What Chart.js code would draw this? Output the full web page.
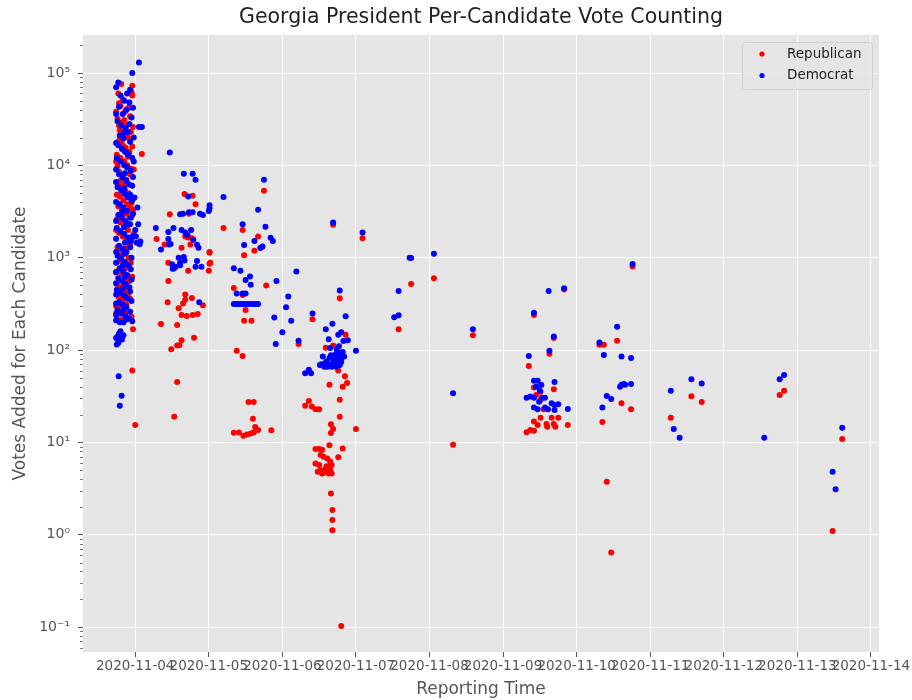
<!DOCTYPE html>
<html>
<head>
<meta charset="utf-8">
<script src="https://cdn.jsdelivr.net/npm/chart.js@4.4.1/dist/chart.umd.min.js"></script>
<style>
  body { margin: 0; background: #fff; }
  canvas { display: block; }
</style>
</head>
<body>
<canvas id="vote-chart" width="912" height="700"></canvas>
<script>
/* Reporting time is a fractional day of November 2020, votes are per report */
let republicanPoints = [
  // election night batch
  [3.78,47000],[3.80,44000],[3.83,52000],[3.86,38000],[3.76,32000],[3.81,29000],[3.88,27000],[3.93,34000],
  [3.79,24000],[3.84,22000],[3.90,20000],[3.77,18000],[3.82,17000],[3.87,15500],[3.92,14000],[3.75,13000],
  [3.80,12000],[3.85,11000],[3.89,10000],[3.94,9200],[3.78,8500],[3.83,7800],[3.88,7000],[3.76,6400],
  [3.81,5900],[3.86,5400],[3.91,5000],[3.79,4600],[3.84,4200],[3.95,3900],[3.77,3600],[3.82,3300],
  [3.87,3000],[3.92,2800],[3.75,2600],[3.80,2400],[3.85,2200],[3.90,2000],[3.78,1850],[3.83,1700],
  [3.88,1550],[3.93,1400],[3.76,1300],[3.81,1200],[3.86,1100],[3.91,1000],[3.79,920],[3.84,850],
  [3.89,780],[3.77,720],[3.82,660],[3.87,600],[3.92,560],[3.75,520],[3.80,480],[3.85,440],
  [3.90,400],[3.78,370],[3.83,340],[3.88,310],[3.76,290],[3.81,270],[3.86,250],[3.95,230],
  [3.79,215],[3.84,200],[3.97,168],[3.96,60],[4.00,15.4],[3.81,76000],[3.96,73000],[3.96,57000],
  [3.97,26000],[3.94,23000],[3.98,9000],[3.97,4300],[3.96,2900],[4.09,13300],[3.74,300],[3.77,270],
  [3.93,3500],[3.98,1800],
  [3.74,38000],[3.91,42000],[3.85,31000],[3.79,19000],[3.96,16000],[3.74,11000],[3.93,8000],[3.86,6200],
  [3.75,4800],[3.97,3300],[3.83,2600],[3.74,2000],[3.95,1600],[3.87,1250],[3.78,1050],[3.94,880],
  [3.74,690],[3.96,620],[3.85,520],[3.76,410],[3.93,360],[3.80,320],[3.74,250],[3.89,225],
  [3.82,205],[3.78,2900],[3.89,3800],[3.80,6800],[3.76,9800],[3.90,12500],[3.84,16000],[3.78,27000],
  [3.95,62000],[3.77,60000],
  // Nov 4 - Nov 5
  [4.47,2960],[4.29,1590],[4.67,4900],[4.78,4700],[4.82,3800],[5.75,5300],[4.73,3000],
  [4.68,1700],[4.72,1650],[4.77,1620],[4.40,1390],[4.63,1280],[4.75,1390],[4.45,880],[4.72,720],
  [5.01,1130],[5.02,880],[5.00,720],[5.46,2000],[5.20,2100],[5.67,1700],[5.62,1190],[5.48,1060],
  [5.01,1150],[5.01,860],[4.45,560],[4.44,330],[4.68,400],[4.68,350],[4.65,320],[4.77,365],
  [4.59,284],[4.63,240],[4.70,234],[4.78,240],[4.85,246],[4.92,305],[4.35,192],[4.57,187],
  [4.80,136],[4.63,128],[4.60,113],[4.57,112],[4.49,102],[4.57,45],[4.53,19],[5.34,470],
  [5.46,395],[5.50,272],[5.48,208],[5.58,208],[5.38,98],[5.46,86],[5.54,27.4],[5.61,27.4],
  [5.60,18],[5.34,12.7],[5.41,12.8],[5.47,11.8],[5.52,12.2],[5.57,12.5],[5.61,12.8],[5.64,13.8],
  [5.67,13.6],[5.63,14.7],[5.85,13.5],[5.78,500],[6.22,116],
  // Nov 6 - Nov 8
  [6.69,2280],[7.09,1620],[6.78,364],[6.41,216],[6.86,146],[6.59,106],[6.69,112],[6.76,60],
  [6.85,52],[6.88,44],[6.82,40],[6.64,42],[6.78,29],[6.78,19],[6.36,28],[6.31,25],
  [6.40,24.4],[6.45,22.8],[6.50,22.8],[7.00,14],[6.66,15.7],[6.69,14],[6.66,12.6],[6.64,9.3],
  [6.82,8.6],[6.76,6.9],[6.45,8.5],[6.50,8.5],[6.54,8.3],[6.52,7.3],[6.56,7.0],[6.61,6.7],
  [6.65,6.2],[6.67,5.7],[6.65,5.1],[6.61,4.8],[6.54,4.6],[6.48,4.8],[6.45,5.9],[6.50,5.7],
  [6.59,5.2],[6.63,4.6],[6.67,4.6],[6.57,5.0],[6.52,5.0],[6.60,5.5],[6.56,4.7],
  [6.66,2.8],[6.68,1.85],[6.68,1.44],[6.68,1.12],[6.80,0.103],[7.75,520],[8.06,600],
  [7.58,168],[8.59,145],[8.32,9.4],
  // Nov 9 onwards
  [9.42,240],[9.83,452],[9.69,135],[9.63,91],[9.35,67],[9.42,39.2],[9.45,32.6],[9.51,35.4],
  [9.69,37.6],[9.51,28.8],[9.55,22.8],[9.66,18.5],[9.75,18.5],[9.51,18.5],[9.42,16.8],[9.47,15.4],
  [9.59,15.8],[9.71,14.8],[9.88,15.4],[9.32,12.9],[9.37,13.6],[9.42,13.4],[9.60,14.8],[9.69,15.8],
  [10.31,114],[10.37,114],[10.55,126],[10.61,26.5],[10.74,22.8],[10.35,16.6],[10.41,3.75],[10.47,0.64],
  [10.76,801],[11.28,18.5],[11.56,31.6],[11.70,27.4],[12.76,32.6],[12.82,36.3],[13.61,10.9],[13.48,1.1]
]

let democratPoints = [
  // election night batch
  [4.05,130000],[3.96,100000],[3.77,79000],[3.93,66000],
  [3.80,57000],[3.85,50000],[3.92,48000],[3.78,43000],[3.88,40000],[3.83,36000],[3.95,33000],[3.76,30000],
  [3.81,27000],[3.87,25000],[4.05,26000],[4.09,26000],[3.90,23000],[3.79,21000],[3.84,19500],[3.93,18000],
  [3.77,16500],[3.82,15000],[3.86,14000],[3.91,13000],[3.75,12000],[3.80,11000],[3.85,10000],[3.89,9500],
  [3.94,8800],[3.78,8000],[3.83,7400],[3.88,6800],[3.92,6200],[3.76,5800],[3.81,5300],[3.86,4900],
  [3.90,4500],[3.95,4100],[3.79,3800],[3.84,3500],[3.89,3200],[3.77,2900],[3.82,2700],[3.87,2500],
  [3.91,2300],[3.75,2100],[3.80,1950],[3.85,1800],[3.90,1650],[3.94,1500],[4.02,1450],[4.06,1400],
  [3.78,1350],[3.83,1250],[3.88,1150],[3.76,1050],[3.81,980],[3.86,900],[3.91,830],[3.79,770],
  [3.84,710],[3.89,650],[3.77,600],[3.82,560],[3.87,520],[3.92,480],[3.75,450],[3.80,420],
  [3.85,390],[3.90,360],[3.78,330],[3.83,310],[3.88,290],[3.76,270],[3.81,250],[3.86,235],
  [3.91,220],[3.74,210],[3.79,200],[3.84,200],[3.87,230],[3.76,140],[3.74,135],[3.77,120],
  [3.82,130],[3.81,137],[3.775,52],[3.815,32],[3.79,25],[3.93,2300],[3.97,3000],[3.99,4500],
  [4.00,2000],[3.96,6000],[3.98,11000],
  [3.74,70000],[3.89,60000],[3.97,42000],[3.74,36000],[3.92,28000],[3.85,22500],[3.98,20000],[3.74,17500],
  [3.89,13500],[3.96,12000],[3.74,9000],[3.86,8200],[3.97,7500],[3.74,6600],[3.85,5600],[3.93,4800],
  [3.74,4000],[3.82,3100],[3.94,2700],[3.74,2500],[3.85,2150],[3.96,1700],[3.74,1600],[3.86,1450],
  [3.93,1300],[3.74,1150],[3.85,1100],[3.95,1000],[3.74,880],[3.83,820],[3.94,750],[3.74,700],
  [3.86,620],[3.95,580],[3.74,530],[3.84,470],[3.93,430],[3.74,400],[3.87,370],[3.95,340],
  [3.74,320],[3.85,280],[3.93,260],[3.74,240],[3.88,215],[3.96,205],[3.80,160],[3.78,150],
  [3.84,145],[3.75,115],[4.01,1700],[4.04,2300],[4.03,3500],[4.07,1500],
  // Nov 4 - Nov 5
  [4.47,13800],[4.66,8100],[4.78,8100],[4.82,7000],[4.72,4600],[5.20,4550],[5.75,7000],[5.01,3700],
  [5.01,3400],[5.00,3200],[4.61,2950],[4.65,3000],[4.73,3100],[4.78,3100],[4.88,3000],[4.92,2900],
  [5.67,3300],[5.46,2300],[5.77,2170],[4.28,2100],[4.35,1230],[4.45,1900],[4.52,2100],[4.45,1590],
  [4.48,1410],[4.46,1390],[4.63,2000],[4.68,1880],[4.71,1760],[4.76,1990],[4.79,1560],[4.84,1380],
  [4.86,1280],[4.59,1000],[4.66,1020],[4.67,930],[4.61,880],[4.50,850],[4.53,770],[4.55,800],
  [4.61,830],[4.51,760],[4.84,920],[4.82,800],[4.90,800],[4.87,330],[5.62,1520],[5.84,1640],
  [5.87,1520],[5.48,1370],[5.70,1270],[5.73,1320],[5.34,770],[5.43,720],[5.50,575],[5.56,625],
  [5.57,510],[5.38,410],[5.46,410],[5.50,410],
  [5.34,316],[5.37,316],[5.40,316],[5.43,316],[5.46,316],[5.49,316],[5.52,316],[5.55,316],
  [5.58,316],[5.61,316],[5.64,316],[5.67,316],
  [5.92,560],[6.08,380],[6.05,290],[5.89,225],[6.12,208],[6.00,156],[5.91,116],[6.22,126],[6.19,710],
  // Nov 6 - Nov 8
  [6.69,2400],[7.09,1870],[7.73,1000],[6.78,440],[6.41,248],[6.86,232],[6.68,193],[6.59,168],
  [6.80,156],[6.76,146],[6.89,128],[6.63,131],[7.00,98],[6.65,105],[6.74,101],[6.78,92],
  [6.80,82],[6.72,89],[6.64,82],[6.58,72],[6.51,69],[6.55,85],[6.69,72],[6.76,72],
  [6.73,66],[6.61,66],[6.67,66],[6.78,69],[6.36,61],[6.39,56],[6.31,56],[6.60,75],
  [6.70,78],[6.75,80],[6.82,95],[6.66,88],[6.53,70],[6.57,66],[6.63,70],[6.71,68],
  [6.80,74],[6.84,85],[6.77,110],[6.83,125],
  [7.58,437],[7.52,226],[7.58,238],[7.75,990],[8.06,1100],[8.59,168],[8.32,34],
  // Nov 9 onwards
  [9.42,254],[9.62,437],[9.83,467],[9.69,140],[9.63,98],[9.35,86],[9.42,46.6],[9.47,46.6],
  [9.52,41.9],[9.45,40.1],[9.70,45.1],[9.32,30.5],[9.37,31.3],[9.42,30.5],[9.50,36.3],[9.53,30.5],
  [9.57,30.5],[9.49,27.6],[9.66,26.5],[9.70,25.4],[9.75,25.9],[9.42,23.8],[9.47,22.8],[9.57,23.8],
  [9.61,22.8],[9.70,22.4],[9.88,23],
  [10.31,121],[10.55,179],[10.37,88.5],[10.61,85],[10.74,82],[10.59,40],[10.61,42],[10.64,43],
  [10.66,42],[10.74,43],[10.41,31.8],[10.47,29.5],[10.35,23.8],[10.76,857],[11.28,36.3],[11.32,14],
  [11.40,11.2],[11.56,48.3],[11.70,43.3],[12.55,11.2],[12.76,48.3],[12.82,53.8],[13.61,14.4],[13.48,4.8],
  [13.52,3.1]
]

/* Axis ticks */
let dayTicks = [4, 5, 6, 7, 8, 9, 10, 11, 12, 13, 14]
let voteTicks = [0.1, 1, 10, 100, 1000, 10000, 100000]

let superscripts = { '-': '\u207B', '0': '\u2070', '1': '\u00B9', '2': '\u00B2', '3': '\u00B3', '4': '\u2074', '5': '\u2075' }

function powerLabel(value) {
    let exponent = String(Math.round(Math.log10(value)))
    return '10' + exponent.split('').map(c => superscripts[c]).join('')
}

function toXY(points) {
    return points.map(p => ({ x: p[0], y: p[1] }))
}

// grey panel behind the grid, like matplotlib ggplot style
let panelBackground = {
    id: 'panelBackground',
    beforeDraw(chart) {
        let area = chart.chartArea
        let ctx = chart.ctx
        ctx.save()
        ctx.fillStyle = '#E5E5E5'
        ctx.fillRect(area.left, area.top, area.right - area.left, area.bottom - area.top)
        ctx.restore()
    }
}

// minor log ticks on the y axis plus the title and legend box
let extras = {
    id: 'extras',
    afterDraw(chart) {
        let ctx = chart.ctx
        let area = chart.chartArea
        let yScale = chart.scales.y

        ctx.save()
        ctx.strokeStyle = '#555'
        ctx.lineWidth = 0.8
        for (let k = -2; k <= 5; k++) {
            for (let m = 2; m <= 9; m++) {
                let v = m * Math.pow(10, k)
                if (v < yScale.min || v > yScale.max) continue
                let y = Math.round(yScale.getPixelForValue(v)) + 0.5
                ctx.beginPath()
                ctx.moveTo(area.left - 3, y)
                ctx.lineTo(area.left, y)
                ctx.stroke()
            }
        }

        // title
        ctx.fillStyle = '#222'
        ctx.font = '20.5px "DejaVu Sans"'
        ctx.textAlign = 'center'
        ctx.textBaseline = 'middle'
        ctx.fillText('Georgia President Per-Candidate Vote Counting', (area.left + area.right) / 2, 18)

        // legend
        let boxW = 130, boxH = 47
        let bx = area.right - 7 - boxW, by = area.top + 7
        ctx.fillStyle = 'rgba(229,229,229,0.8)'
        ctx.strokeStyle = '#D0D0D0'
        ctx.lineWidth = 1
        ctx.beginPath()
        ctx.roundRect(bx + 0.5, by + 0.5, boxW, boxH, 3)
        ctx.fill()
        ctx.stroke()

        ctx.font = '13.5px "DejaVu Sans"'
        ctx.textAlign = 'left'
        chart.data.datasets.forEach(function(ds, i) {
            let rowY = by + 12 + i * 21.5
            ctx.fillStyle = ds.backgroundColor
            ctx.beginPath()
            ctx.arc(bx + 20, rowY, 2.6, 0, Math.PI * 2)
            ctx.fill()
            ctx.fillStyle = '#222'
            ctx.fillText(ds.label, bx + 45, rowY)
        })
        ctx.restore()
    }
}

let ctx = document.querySelector('#vote-chart').getContext('2d')

let voteChart = new Chart(ctx, {
    type: 'scatter',
    data: {
        datasets: [
            {
                label: 'Republican',
                data: toXY(republicanPoints),
                backgroundColor: '#FF0000',
                borderWidth: 0,
                pointRadius: 3,
                order: 1
            },
            {
                label: 'Democrat',
                data: toXY(democratPoints),
                backgroundColor: '#0000FF',
                borderWidth: 0,
                pointRadius: 3,
                order: 0
            }
        ]
    },
    options: {
        responsive: false,
        animation: false,
        devicePixelRatio: 1,
        layout: { padding: { top: 35, right: 33, bottom: 0, left: 0 } },
        plugins: {
            legend: { display: false },
            tooltip: { enabled: false }
        },
        scales: {
            x: {
                type: 'linear',
                min: 3.29,
                max: 14.11,
                afterBuildTicks: function(scale) {
                    scale.ticks = dayTicks.map(v => ({ value: v }))
                },
                afterFit: function(scale) { scale.height = 48 },
                ticks: {
                    autoSkip: false,
                    maxRotation: 0,
                    minRotation: 0,
                    padding: 1,
                    color: '#555',
                    font: { family: 'DejaVu Sans', size: 13.5 },
                    callback: v => '2020-11-' + String(v).padStart(2, '0')
                },
                grid: { color: '#FFFFFF', lineWidth: 1, tickColor: '#555', tickLength: 5 },
                border: { display: false },
                title: {
                    display: true,
                    text: 'Reporting Time',
                    color: '#555',
                    font: { family: 'DejaVu Sans', size: 17 },
                    padding: { top: 0, bottom: 0 }
                }
            },
            y: {
                type: 'logarithmic',
                min: 0.0537,
                max: 258000,
                afterBuildTicks: function(scale) {
                    scale.ticks = voteTicks.map(v => ({ value: v }))
                },
                afterFit: function(scale) { scale.width = 83 },
                ticks: {
                    padding: 8,
                    color: '#555',
                    font: { family: 'DejaVu Sans', size: 14 },
                    callback: v => powerLabel(v)
                },
                grid: { color: '#FFFFFF', lineWidth: 1, tickColor: '#555', tickLength: 5 },
                border: { display: false },
                title: {
                    display: true,
                    text: 'Votes Added for Each Candidate',
                    color: '#555',
                    font: { family: 'DejaVu Sans', size: 17 },
                    padding: { top: 10, bottom: 0 }
                }
            }
        }
    },
    plugins: [panelBackground, extras]
})
</script>
</body>
</html>
